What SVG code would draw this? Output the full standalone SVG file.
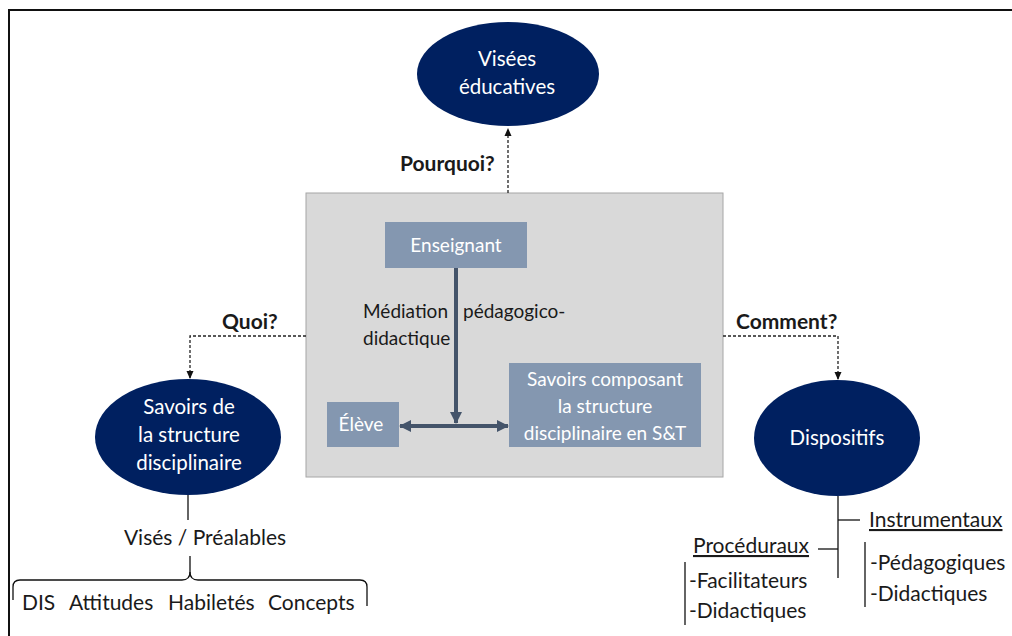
<svg xmlns="http://www.w3.org/2000/svg" width="1012" height="636" viewBox="0 0 1012 636">
<defs>
<style>
text{font-family:Lato,"Open Sans","Liberation Sans",sans-serif;font-size:21px;fill:#1a1a1a}
.c{font-size:19px}
.e{font-size:20.5px}
.w{fill:#ffffff}
.b{font-weight:bold}
.ell{fill:#002060}
.box{fill:#8497b0}
.dash{fill:none;stroke:#222;stroke-width:1.3;stroke-dasharray:3 2}
.solid{fill:none;stroke:#111;stroke-width:1.3}
.med{fill:none;stroke:#44546a;stroke-width:4}
</style>
<marker id="ah" markerWidth="8" markerHeight="8" refX="7" refY="4" orient="auto" markerUnits="userSpaceOnUse"><path d="M0,0.5 L8,4 L0,7.5 z" fill="#111"/></marker>
<marker id="ahm" markerWidth="12" markerHeight="12" refX="11" refY="6" orient="auto" markerUnits="userSpaceOnUse"><path d="M0,0 L12,6 L0,12 z" fill="#44546a"/></marker>
</defs>
<rect width="1012" height="636" fill="#ffffff"/>
<path d="M9,636 V10 H1012" fill="none" stroke="#111" stroke-width="2"/>

<g id="center-box">
<rect x="306" y="193" width="417" height="284" fill="#d9d9d9" stroke="#a6a6a6" stroke-width="1"/>
</g>

<g id="connectors">
<path class="dash" d="M508,193 V129" marker-end="url(#ah)"/>
<path class="dash" d="M306,336 H190 V378" marker-end="url(#ah)"/>
<path class="dash" d="M723,336 H838 V379" marker-end="url(#ah)"/>
<path class="med" d="M456,268 V423" marker-end="url(#ahm)"/>
<path class="med" d="M456,426 H508" marker-end="url(#ahm)"/>
<path class="med" d="M456,426 H400" marker-end="url(#ahm)"/>
<path class="solid" d="M188,495 V520"/>
<path class="solid" d="M190,556 V572 Q190,580 182,580 H20 Q13,580 13,587 V600"/>
<path class="solid" d="M190,572 Q190,580 198,580 H360 Q367,580 367,587 V606"/>
<path class="solid" d="M838,496 V578"/>
<path class="solid" d="M838,520 H860"/>
<path class="solid" d="M818,549 H838"/>
<path class="solid" d="M685,562 V625"/>
<path class="solid" d="M865,542 V607"/>
</g>

<g id="visees">
<ellipse class="ell" cx="508" cy="74" rx="91" ry="52"/>
<text class="w e" x="507" y="66" text-anchor="middle">Visées</text>
<text class="w e" x="507" y="94" text-anchor="middle">éducatives</text>
</g>

<g id="savoirs">
<ellipse class="ell" cx="188" cy="437" rx="93" ry="58"/>
<text class="w e" x="189" y="414" text-anchor="middle">Savoirs de</text>
<text class="w e" x="189" y="442" text-anchor="middle">la structure</text>
<text class="w e" x="189" y="470" text-anchor="middle">disciplinaire</text>
</g>

<g id="dispositifs">
<ellipse class="ell" cx="837" cy="438" rx="83" ry="58"/>
<text class="w e" x="837" y="445" text-anchor="middle">Dispositifs</text>
</g>

<g id="enseignant">
<rect class="box" x="385" y="222" width="142" height="46"/>
<text class="w c" x="456" y="252" text-anchor="middle">Enseignant</text>
</g>

<g id="eleve">
<rect class="box" x="327" y="402" width="72" height="45"/>
<text class="w c" x="361" y="431" text-anchor="middle">Élève</text>
</g>

<g id="savoirs-composant">
<rect class="box" x="509" y="363" width="192" height="84"/>
<text class="w c" x="605" y="386" text-anchor="middle">Savoirs composant</text>
<text class="w c" x="605" y="413" text-anchor="middle">la structure</text>
<text class="w c" x="605" y="440" text-anchor="middle">disciplinaire en S&amp;T</text>
</g>

<g id="labels">
<text class="c" x="363" y="318">Médiation</text>
<text class="c" x="463" y="318">pédagogico-</text>
<text class="c" x="363" y="345">didactique</text>
<text class="b" x="400" y="171">Pourquoi?</text>
<text class="b" x="222" y="329">Quoi?</text>
<text class="b" x="736" y="329">Comment?</text>
<text x="205" y="545" text-anchor="middle">Visés / Préalables</text>
<text x="22" y="610">DIS</text>
<text x="69" y="610">Attitudes</text>
<text x="168" y="610">Habiletés</text>
<text x="268" y="610">Concepts</text>
<text x="869" y="527" text-decoration="underline">Instrumentaux</text>
<text x="693" y="553" text-decoration="underline">Procéduraux</text>
<text x="689" y="588">-Facilitateurs</text>
<text x="689" y="618">-Didactiques</text>
<text x="870" y="570">-Pédagogiques</text>
<text x="870" y="601">-Didactiques</text>
</g>
</svg>
